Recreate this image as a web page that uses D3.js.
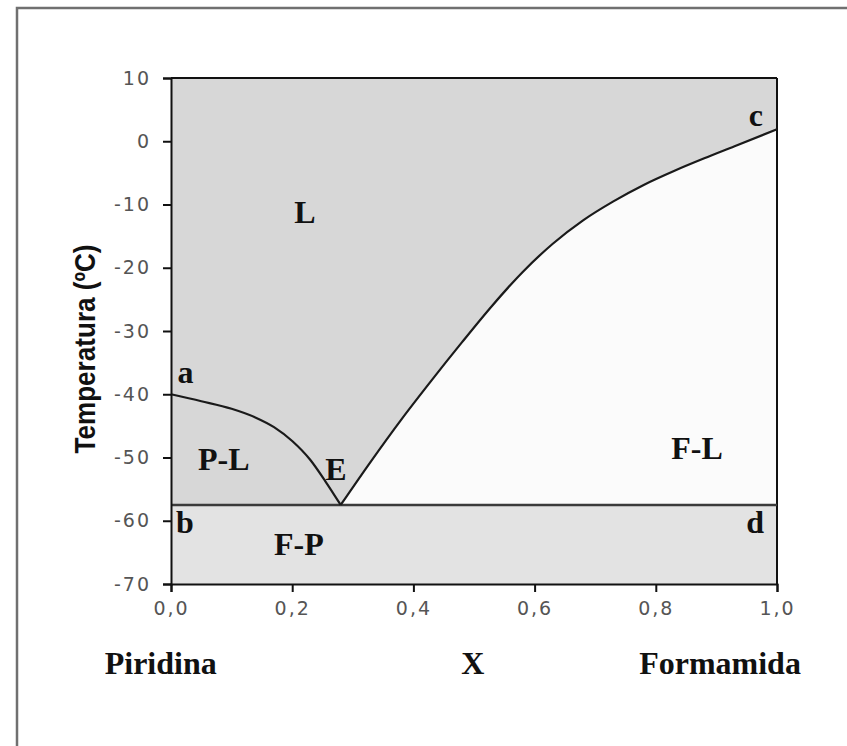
<!DOCTYPE html>
<html>
<head>
<meta charset="utf-8">
<script src="https://cdn.jsdelivr.net/npm/d3@7"></script>
<style>
  body { margin: 0; background: #ffffff; }
  .tick_label { font-family: "DejaVu Sans", sans-serif; font-size: 19px; fill: #555555; letter-spacing: 2px; }
  .region_label { font-family: "Liberation Serif", "Times New Roman", serif; font-weight: bold; font-size: 32px; fill: #111111; }
</style>
</head>
<body>
<div id="div_phase"></div>
<script>
// liquidus of piridina side (a -> E), x = molar fraction of formamida, temperature in ºC
const leftLiquidus = [
  [0.0, -40.0], [0.05, -41.1], [0.1, -42.3], [0.14, -43.7],
  [0.17, -45.2], [0.2, -47.4], [0.23, -50.4], [0.255, -53.8], [0.28, -57.5]
];
// liquidus of formamida side (E -> c)
const rightLiquidus = [
  [0.28, -57.5], [0.33, -50.6], [0.38, -44.0], [0.43, -37.8],
  [0.48, -31.8], [0.53, -26.0], [0.58, -20.7], [0.63, -16.2],
  [0.68, -12.5], [0.73, -9.5], [0.78, -6.9], [0.83, -4.7],
  [0.88, -2.7], [0.93, -0.8], [1.0, 1.9]
];
// eutectic temperature (line b - d)
const eutecticT = -57.5;

const xTicks = [0, 0.2, 0.4, 0.6, 0.8, 1.0];
const yTicks = [10, 0, -10, -20, -30, -40, -50, -60, -70];

// labels of the diagram, placed in data units
const regionLabels = [
  { text: "L",   x: 0.221, t: -12.9 },
  { text: "a",   x: 0.024, t: -38.2 },
  { text: "b",   x: 0.023, t: -61.9 },
  { text: "c",   x: 0.965, t: 2.4 },
  { text: "d",   x: 0.964, t: -61.9 },
  { text: "E",   x: 0.272, t: -53.6 },
  { text: "P-L", x: 0.087, t: -52.0 },
  { text: "F-P", x: 0.211, t: -65.4 },
  { text: "F-L", x: 0.868, t: -50.2 }
];
const bottomLabels = [
  { text: "Piridina",  x: -0.017 },
  { text: "X",         x: 0.498 },
  { text: "Formamida", x: 0.906 }
];

const width = 847, height = 746;

const svg = d3.select("#div_phase")
  .append("svg")
  .attr("width", width)
  .attr("height", height);

// outer frame of the figure (cut by the picture on right and bottom)
svg.append("rect")
  .attr("x", 17).attr("y", 8)
  .attr("width", 900).attr("height", 800)
  .attr("fill", "none")
  .attr("stroke", "#707070")
  .attr("stroke-width", 2.5);

const x = d3.scaleLinear().domain([0, 1]).range([171, 777]);
const y = d3.scaleLinear().domain([-70, 10]).range([584, 78]);

const line = d3.line()
  .x(d => x(d[0]))
  .y(d => y(d[1]))
  .curve(d3.curveMonotoneX);

// L + P-L background (everything above eutectic)
svg.append("rect")
  .attr("x", x(0)).attr("y", y(10))
  .attr("width", x(1) - x(0))
  .attr("height", y(eutecticT) - y(10))
  .attr("fill", "#d7d7d7");

// F-P region (below eutectic)
svg.append("rect")
  .attr("x", x(0)).attr("y", y(eutecticT))
  .attr("width", x(1) - x(0))
  .attr("height", y(-70) - y(eutecticT))
  .attr("fill", "#e3e3e3");

// F-L region, under the right liquidus
const flArea = d3.area()
  .x(d => x(d[0]))
  .y0(y(eutecticT))
  .y1(d => y(d[1]))
  .curve(d3.curveMonotoneX);
svg.append("path")
  .datum(rightLiquidus)
  .attr("d", flArea)
  .attr("fill", "#fbfbfb");

// frame top and right
svg.append("line")
  .attr("x1", x(0)).attr("x2", x(1))
  .attr("y1", y(10)).attr("y2", y(10))
  .attr("stroke", "#111").attr("stroke-width", 2);
svg.append("line")
  .attr("x1", x(1)).attr("x2", x(1))
  .attr("y1", y(10)).attr("y2", y(-70))
  .attr("stroke", "#111").attr("stroke-width", 2);

// eutectic line
svg.append("line")
  .attr("x1", x(0)).attr("x2", x(1))
  .attr("y1", y(eutecticT)).attr("y2", y(eutecticT))
  .attr("stroke", "#3a3a3a").attr("stroke-width", 2.5);

// liquidus curves
[leftLiquidus, rightLiquidus].forEach(pts => {
  svg.append("path")
    .datum(pts)
    .attr("d", line)
    .attr("fill", "none")
    .attr("stroke", "#1a1a1a")
    .attr("stroke-width", 2.2);
});

// axes
const yAxis = svg.append("g")
  .attr("transform", `translate(${x(0)},0)`)
  .call(d3.axisLeft(y).tickValues(yTicks).tickSize(8).tickPadding(12).tickFormat(d => String(d)));
const xAxis = svg.append("g")
  .attr("transform", `translate(0,${y(-70)})`)
  .call(d3.axisBottom(x).tickValues(xTicks).tickSize(8).tickPadding(10)
    .tickFormat(d => d.toFixed(1).replace(".", ",")));

[yAxis, xAxis].forEach(ax => {
  ax.select(".domain").attr("stroke", "#111").attr("stroke-width", 2);
  ax.selectAll(".tick line").attr("stroke", "#111").attr("stroke-width", 2);
  ax.selectAll(".tick text")
    .attr("class", "tick_label")
    .attr("fill", null);
  ax.attr("font-family", null).attr("font-size", null);
});

// region labels
svg.selectAll(".region")
  .data(regionLabels)
  .join("text")
  .attr("class", "region_label")
  .attr("x", d => x(d.x))
  .attr("y", d => y(d.t))
  .attr("text-anchor", "middle")
  .text(d => d.text);

// composition labels under the axis
svg.selectAll(".bottom")
  .data(bottomLabels)
  .join("text")
  .attr("class", "region_label")
  .attr("x", d => x(d.x))
  .attr("y", y(-70) + 90)
  .attr("text-anchor", "middle")
  .text(d => d.text);

// y axis title (condensed bold look)
svg.append("text")
  .attr("transform", `translate(95, 349) rotate(-90) scale(0.9,1)`)
  .attr("text-anchor", "middle")
  .style("font-family", "'Liberation Sans', Arial, sans-serif")
  .style("font-weight", "bold")
  .style("font-size", "29px")
  .style("fill", "#111")
  .text("Temperatura (ºC)");
</script>
</body>
</html>
